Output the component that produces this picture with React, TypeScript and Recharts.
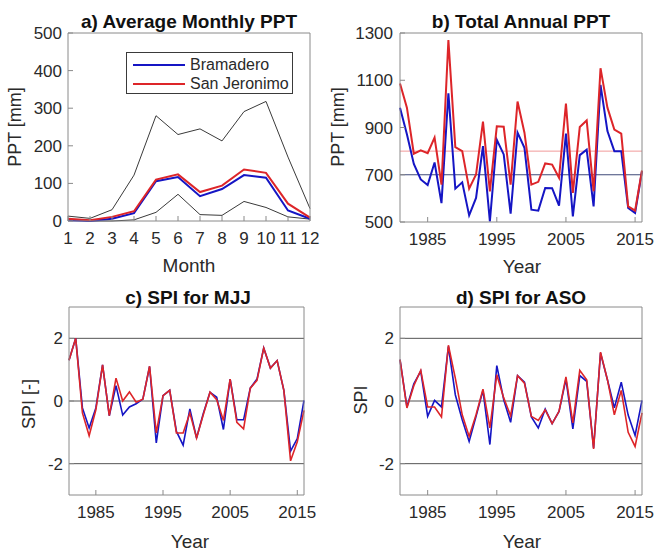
import React from "react";
import { LineChart, Line, XAxis, YAxis, ReferenceLine } from "recharts";

// page has an 8px body margin by default, drop it so the 654x553 frame sits at 0,0
document.body.style.margin = "0";

// ── data ────────────────────────────────────────────────────
const MONTHS = [1, 2, 3, 4, 5, 6, 7, 8, 9, 10, 11, 12];
const MONTH_MAX = [13, 7, 30, 122, 280, 230, 245, 213, 291, 318, 170, 33];
const MONTH_MIN = [4, 0, 0, 3, 23, 71, 17, 15, 52, 36, 11, 5];
const MONTH_BRAM = [2, 0, 6, 21, 106, 117, 66, 85, 122, 115, 28, 6];
const MONTH_SANJ = [6, 2, 11, 26, 110, 124, 77, 94, 137, 128, 46, 9];

const YEARS = [
  1981, 1982, 1983, 1984, 1985, 1986, 1987, 1988, 1989, 1990,
  1991, 1992, 1993, 1994, 1995, 1996, 1997, 1998, 1999, 2000,
  2001, 2002, 2003, 2004, 2005, 2006, 2007, 2008, 2009, 2010,
  2011, 2012, 2013, 2014, 2015, 2016,
];
const ANNUAL_BRAM = [
  984, 871, 746, 680, 656, 752, 580, 1045, 641, 668,
  528, 602, 821, 503, 848, 786, 535, 878, 814, 552,
  548, 644, 643, 569, 874, 524, 783, 806, 566, 1080,
  885, 800, 800, 559, 538, 715,
];
const ANNUAL_SANJ = [
  1086, 984, 789, 803, 791, 857, 658, 1270, 817, 800,
  641, 701, 925, 630, 905, 903, 658, 1010, 878, 658,
  670, 748, 743, 687, 1001, 623, 902, 930, 630, 1151,
  984, 891, 874, 566, 548, 718,
];
const MEAN_BRAM = 700;
const MEAN_SANJ = 800;

const MJJ_BRAM = [
  1.3, 2.0, -0.22, -0.86, -0.22, 1.15, -0.47, 0.49, -0.45, -0.19,
  -0.09, 0.06, 1.1, -1.34, 0.17, 0.34, -0.97, -1.41, -0.25, -1.18,
  -0.4, 0.28, 0.12, -0.91, 0.7, -0.6, -0.6, 0.41, 0.7, 1.69,
  1.05, 1.29, 0.34, -1.6, -1.2, 0.02,
];
const MJJ_SANJ = [
  1.3, 2.0, -0.38, -1.11, -0.28, 1.15, -0.47, 0.73, 0.0, 0.29,
  -0.04, 0.06, 1.11, -1.02, 0.17, 0.34, -1.02, -1.02, -0.38, -1.18,
  -0.44, 0.28, 0.04, -0.62, 0.7, -0.68, -0.89, 0.41, 0.66, 1.69,
  1.05, 1.29, 0.34, -1.91, -1.3, -0.3,
];
const ASO_BRAM = [
  1.32, -0.19, 0.55, 0.95, -0.49, 0.02, -0.19, 1.74, 0.2, -0.6,
  -1.29, -0.49, 0.34, -1.39, 1.13, 0.04, -0.68, 0.81, 0.6, -0.51,
  -0.86, -0.26, -0.72, -0.33, 0.7, -0.89, 0.81, 0.63, -1.5, 1.53,
  0.68, -0.22, 0.6, -0.45, -1.1, 0.02,
];
const ASO_SANJ = [
  1.32, -0.22, 0.49, 0.98, -0.19, -0.19, -0.51, 1.78, 0.73, -0.44,
  -1.13, -0.44, 0.38, -0.86, 0.84, 0.1, -0.47, 0.81, 0.57, -0.49,
  -0.62, -0.28, -0.72, -0.33, 0.77, -0.7, 0.98, 0.68, -1.53, 1.56,
  0.68, -0.44, 0.34, -1.0, -1.45, -0.38,
];

const MONTH_TICKS = [1, 2, 3, 4, 5, 6, 7, 8, 9, 10, 11, 12];
const MONTHLY_TICKS = [0, 100, 200, 300, 400, 500];
const YEAR_TICKS = [1985, 1995, 2005, 2015];
const ANNUAL_TICKS = [500, 700, 900, 1100, 1300];
const SPI_TICKS = [-2, 0, 2];
const SPI_LINES = [-2, 0, 2];

const STATIONS = ["Bramadero", "San Jeronimo"];

// ── styles ──────────────────────────────────────────────────
const BLUE = "#1515c4";
const RED = "#dd2529";
const FRAME = "#8a8a8a";
const TXT = "#2a2a2a";
const FONT = '"Liberation Sans", Arial, Helvetica, sans-serif';
const tickStyle = { fontSize: 17, fill: TXT, fontFamily: FONT };

// axis sizes reserved by recharts, subtracted from the wanted plot margins
const YW = 60;
const XH = 30;
const SIDE = 1;

const monthlyRows = MONTHS.map((m, i) => ({
  x: m,
  max: MONTH_MAX[i],
  min: MONTH_MIN[i],
  bram: MONTH_BRAM[i],
  sanj: MONTH_SANJ[i],
}));
const annualRows = YEARS.map((y, i) => ({ x: y, bram: ANNUAL_BRAM[i], sanj: ANNUAL_SANJ[i] }));
const mjjRows = YEARS.map((y, i) => ({ x: y, bram: MJJ_BRAM[i], sanj: MJJ_SANJ[i] }));
const asoRows = YEARS.map((y, i) => ({ x: y, bram: ASO_BRAM[i], sanj: ASO_SANJ[i] }));

// plot edges (distance from chart border) -> chart margin
function plotMargin(top: number, right: number, bottom: number, left: number) {
  return { top: top - SIDE, right: right - SIDE, bottom: bottom - XH, left: left - YW };
}

// matlab style box: ticks pointing in, labels only bottom/left
function boxAxes(xDomain: number[], xTicks: number[], yDomain: number[], yTicks: number[], yGap = 11) {
  return [
    <XAxis
      key="xb"
      xAxisId="b"
      type="number"
      dataKey="x"
      domain={xDomain}
      ticks={xTicks}
      interval={0}
      height={XH}
      stroke={FRAME}
      tickSize={-5}
      tickMargin={16}
      tick={tickStyle}
    />,
    <XAxis
      key="xt"
      xAxisId="t"
      orientation="top"
      type="number"
      dataKey="x"
      domain={xDomain}
      ticks={xTicks}
      interval={0}
      height={SIDE}
      stroke={FRAME}
      tickSize={-5}
      tick={false}
    />,
    <YAxis
      key="yl"
      yAxisId="l"
      type="number"
      domain={yDomain}
      ticks={yTicks}
      interval={0}
      width={YW}
      stroke={FRAME}
      tickSize={-5}
      tickMargin={yGap}
      tick={tickStyle}
    />,
    <YAxis
      key="yr"
      yAxisId="r"
      orientation="right"
      type="number"
      domain={yDomain}
      ticks={yTicks}
      interval={0}
      width={SIDE}
      stroke={FRAME}
      tickSize={-5}
      tick={false}
    />,
  ];
}

function Txt({ x, y, children, bold, size = 19, rotate }: any) {
  return (
    <div
      style={{
        position: "absolute",
        left: x,
        top: y,
        transform: `translate(-50%, -50%)${rotate ? " rotate(-90deg)" : ""}`,
        fontFamily: FONT,
        fontSize: size,
        fontWeight: bold ? 700 : 400,
        color: bold ? "#111" : TXT,
        whiteSpace: "nowrap",
        lineHeight: 1,
      }}
    >
      {children}
    </div>
  );
}

function Box({ left, top, children }: any) {
  return <div style={{ position: "absolute", left, top }}>{children}</div>;
}

function stationLines(width: number) {
  return [
    <Line key="b" xAxisId="b" yAxisId="l" dataKey="bram" stroke={BLUE} strokeWidth={width} dot={false} isAnimationActive={false} />,
    <Line key="s" xAxisId="b" yAxisId="l" dataKey="sanj" stroke={RED} strokeWidth={width} dot={false} isAnimationActive={false} />,
  ];
}

export default function App() {
  return (
    <div style={{ position: "relative", width: 654, height: 553, background: "#fff", overflow: "hidden" }}>
      {/* a) average monthly */}
      <Box left={0} top={0}>
        <LineChart width={330} height={275} data={monthlyRows} margin={plotMargin(33, 20, 54, 68)}>
          {boxAxes([1, 12], MONTH_TICKS, [0, 500], MONTHLY_TICKS)}
          <Line xAxisId="b" yAxisId="l" dataKey="max" stroke="#3a3a3a" strokeWidth={1} dot={false} isAnimationActive={false} />
          <Line xAxisId="b" yAxisId="l" dataKey="min" stroke="#3a3a3a" strokeWidth={1} dot={false} isAnimationActive={false} />
          {stationLines(2)}
        </LineChart>
      </Box>
      <div
        style={{
          position: "absolute",
          left: 126,
          top: 52,
          width: 167,
          height: 42,
          border: "1px solid #3a3a3a",
          background: "#fff",
          boxSizing: "border-box",
        }}
      >
        {STATIONS.map((name, i) => (
          <div key={name} style={{ position: "absolute", left: 6, top: 4 + i * 19, height: 16, display: "flex", alignItems: "center" }}>
            <div style={{ width: 52, height: 2, background: i === 0 ? BLUE : RED }} />
            <span style={{ marginLeft: 5, fontFamily: FONT, fontSize: 16, color: TXT }}>{name}</span>
          </div>
        ))}
      </div>
      <Txt x={189} y={21} bold>a) Average Monthly PPT</Txt>
      <Txt x={189} y={265}>Month</Txt>
      <Txt x={15} y={127} size={18} rotate>PPT [mm]</Txt>

      {/* b) total annual */}
      <Box left={330} top={0}>
        <LineChart width={324} height={275} data={annualRows} margin={plotMargin(33, 12, 53, 70)}>
          {boxAxes([1981, 2016], YEAR_TICKS, [500, 1300], ANNUAL_TICKS, 12)}
          <ReferenceLine xAxisId="b" yAxisId="l" y={MEAN_SANJ} stroke="#f19a9a" strokeWidth={1} />
          <ReferenceLine xAxisId="b" yAxisId="l" y={MEAN_BRAM} stroke="#3f4a78" strokeWidth={1} />
          {stationLines(2)}
        </LineChart>
      </Box>
      <Txt x={521} y={21} bold>b) Total Annual PPT</Txt>
      <Txt x={522} y={266}>Year</Txt>
      <Txt x={338} y={127} size={18} rotate>PPT [mm]</Txt>

      {/* c) SPI MJJ */}
      <Box left={0} top={275}>
        <LineChart width={330} height={278} data={mjjRows} margin={plotMargin(32, 26, 58, 69)}>
          {boxAxes([1981, 2016], YEAR_TICKS, [-3, 3], SPI_TICKS)}
          {SPI_LINES.map((v) => (
            <ReferenceLine key={v} xAxisId="b" yAxisId="l" y={v} stroke="#555" strokeWidth={1} />
          ))}
          {stationLines(1.6)}
        </LineChart>
      </Box>
      <Txt x={188} y={297} bold>c) SPI for MJJ</Txt>
      <Txt x={190} y={541}>Year</Txt>
      <Txt x={29} y={404} size={18} rotate>SPI [-]</Txt>

      {/* d) SPI ASO */}
      <Box left={330} top={275}>
        <LineChart width={324} height={278} data={asoRows} margin={plotMargin(32, 12, 58, 70)}>
          {boxAxes([1981, 2016], YEAR_TICKS, [-3, 3], SPI_TICKS)}
          {SPI_LINES.map((v) => (
            <ReferenceLine key={v} xAxisId="b" yAxisId="l" y={v} stroke="#555" strokeWidth={1} />
          ))}
          {stationLines(1.6)}
        </LineChart>
      </Box>
      <Txt x={521} y={297} bold>d) SPI for ASO</Txt>
      <Txt x={522} y={541}>Year</Txt>
      <Txt x={361} y={400} size={18} rotate>SPI</Txt>
    </div>
  );
}
